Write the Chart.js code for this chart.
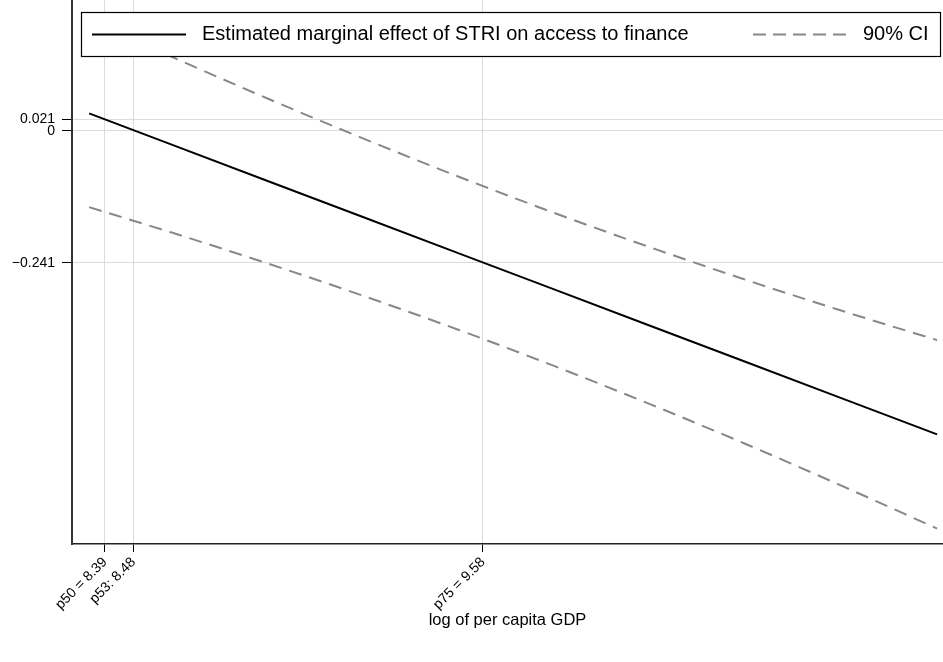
<!DOCTYPE html>
<html>
<head>
<meta charset="utf-8">
<title>Marginal effect of STRI</title>
<script src="https://cdn.jsdelivr.net/npm/chart.js@4.4.1/dist/chart.umd.min.js"></script>
<style>
    html, body { margin: 0; padding: 0; background: #ffffff; }
    #wrap { width: 943px; height: 662px; position: relative; }
</style>
</head>
<body>
<div id="wrap"><canvas id="marginsChart" width="943" height="662"></canvas></div>
<script>
// ── data ─────────────────────────────────────────────────
const gdpLog = [8.34, 8.6, 8.9, 9.2, 9.5, 9.8, 10.1, 10.4, 10.7, 11.01];
const effect = [0.0315, -0.0255, -0.0914, -0.1572, -0.2230, -0.2889, -0.3547, -0.4205, -0.4864, -0.5544];
const ciUpper = [0.2026, 0.1350, 0.0592, -0.0135, -0.0831, -0.1492, -0.2116, -0.2708, -0.3270, -0.3824];
const ciLower = [-0.1396, -0.1860, -0.2420, -0.3009, -0.3629, -0.4286, -0.4978, -0.5702, -0.6458, -0.7264];

const xTicks = [8.39, 8.48, 9.58];
const xTickLabels = ['p50 = 8.39', 'p53: 8.48', 'p75 = 9.58'];
const yTicks = [-0.241, 0, 0.021];
const yTickLabels = ['\u22120.241', '0', '0.021'];

const effectLabel = 'Estimated marginal effect of STRI on access to finance';
const ciLabel = '90% CI';
const xTitle = 'log of per capita GDP';

const FONT = '"Liberation Sans", Arial, Helvetica, sans-serif';
const GRID = '#dcdcdc';
const CI_COLOR = '#888888';

function pairs(ys) {
    return gdpLog.map((x, i) => ({ x: x, y: ys[i] }));
}

// legend drawn inside the plot, on top of everything
const insideLegend = {
    id: 'insideLegend',
    afterDraw(chart) {
        const ctx = chart.ctx;
        const box = { x: 81, y: 12, w: 860, h: 45 };
        const midY = box.y + box.h / 2;
        ctx.save();
        ctx.fillStyle = '#ffffff';
        ctx.fillRect(box.x, box.y, box.w, box.h);
        ctx.strokeStyle = '#000000';
        ctx.lineWidth = 1.2;
        ctx.strokeRect(box.x + 0.5, box.y + 0.5, box.w - 1, box.h - 1);

        // solid sample
        ctx.beginPath();
        ctx.strokeStyle = '#000000';
        ctx.lineWidth = 2;
        ctx.moveTo(92, midY);
        ctx.lineTo(186, midY);
        ctx.stroke();

        // dashed sample
        ctx.beginPath();
        ctx.strokeStyle = CI_COLOR;
        ctx.setLineDash([13, 7]);
        ctx.moveTo(753, midY);
        ctx.lineTo(847, midY);
        ctx.stroke();
        ctx.setLineDash([]);

        ctx.fillStyle = '#000000';
        ctx.font = '20px ' + FONT;
        ctx.textBaseline = 'middle';
        ctx.textAlign = 'left';
        ctx.fillText(effectLabel, 202, midY);
        ctx.fillText(ciLabel, 863, midY);
        ctx.restore();
    }
};

const ctx = document.getElementById('marginsChart');

new Chart(ctx, {
    type: 'line',
    data: {
        datasets: [
            {
                label: effectLabel,
                data: pairs(effect),
                borderColor: '#000000',
                borderWidth: 2,
                pointRadius: 0,
                fill: false
            },
            {
                label: ciLabel,
                data: pairs(ciUpper),
                borderColor: CI_COLOR,
                borderWidth: 2,
                borderDash: [13, 8],
                pointRadius: 0,
                cubicInterpolationMode: 'monotone',
                fill: false
            },
            {
                label: ciLabel + ' (lower)',
                data: pairs(ciLower),
                borderColor: CI_COLOR,
                borderWidth: 2,
                borderDash: [13, 8],
                pointRadius: 0,
                cubicInterpolationMode: 'monotone',
                fill: false
            }
        ]
    },
    options: {
        responsive: false,
        animation: false,
        devicePixelRatio: 1,
        layout: { padding: 0 },
        plugins: {
            legend: { display: false },
            tooltip: { enabled: false }
        },
        scales: {
            x: {
                type: 'linear',
                min: 8.2861,
                max: 11.0286,
                afterBuildTicks: (scale) => { scale.ticks = xTicks.map(v => ({ value: v })); },
                afterFit: (scale) => {
                    scale.height = 118;
                    scale.paddingLeft = 0;
                    scale.paddingRight = 0;
                },
                ticks: {
                    autoSkip: false,
                    minRotation: 45,
                    maxRotation: 45,
                    padding: 2,
                    color: '#000000',
                    font: { family: FONT, size: 14 },
                    callback: (v, i) => xTickLabels[i]
                },
                grid: { color: GRID, lineWidth: 1, tickColor: '#000000', tickLength: 8 },
                border: { color: '#222222', width: 1.5 },
                title: {
                    display: true,
                    text: xTitle,
                    color: '#000000',
                    font: { family: FONT, size: 16.5 },
                    padding: { top: 0, bottom: 32 }
                }
            },
            y: {
                type: 'linear',
                min: -0.7546,
                max: 0.2386,
                afterBuildTicks: (scale) => { scale.ticks = yTicks.map(v => ({ value: v })); },
                afterFit: (scale) => {
                    scale.width = 72;
                    scale.paddingTop = 0;
                    scale.paddingBottom = 0;
                },
                ticks: {
                    autoSkip: false,
                    padding: 7,
                    color: '#000000',
                    font: { family: FONT, size: 14 },
                    callback: (v, i) => yTickLabels[i]
                },
                grid: { color: GRID, lineWidth: 1, tickColor: '#000000', tickLength: 10 },
                border: { color: '#333333', width: 2 }
            }
        }
    },
    plugins: [insideLegend]
});
</script>
</body>
</html>
